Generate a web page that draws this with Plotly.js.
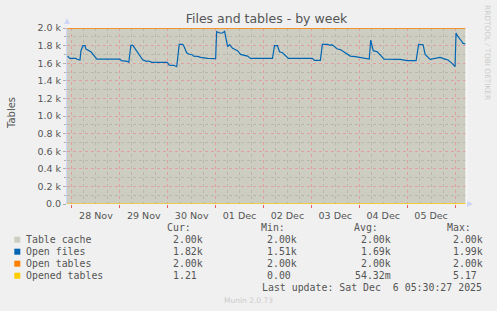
<!DOCTYPE html>
<html><head><meta charset="utf-8">
<script src="https://cdn.plot.ly/plotly-3.0.1.min.js"></script>
<style>html,body{margin:0;padding:0;background:#f0f0f0;}#chart{width:497px;height:311px;}</style>
</head><body><div id="chart"></div>
<script>
// ---- data ----
const tableCacheTimes = ['2025-11-27 21:30', '2025-12-06 05:30'];
const tableCacheValues = [2000, 2000];
const openTablesTimes = ['2025-11-27 21:30', '2025-12-06 05:30'];
const openTablesValues = [2000, 2000];
const openFilesTimes = [
 '2025-11-27 21:45','2025-11-27 23:00','2025-11-28 02:00','2025-11-28 02:30','2025-11-28 04:00','2025-11-28 04:30',
 '2025-11-28 05:30','2025-11-28 06:30','2025-11-28 07:00','2025-11-28 08:30','2025-11-28 09:30','2025-11-28 12:30',
 '2025-11-29 00:00','2025-11-29 00:45','2025-11-29 03:45','2025-11-29 04:30','2025-11-29 05:30','2025-11-29 06:30',
 '2025-11-29 09:00','2025-11-29 11:30','2025-11-29 12:30','2025-11-29 13:30','2025-11-29 14:30','2025-11-29 16:00',
 '2025-11-29 23:45','2025-11-30 00:45','2025-11-30 03:00','2025-11-30 04:00','2025-11-30 04:30','2025-11-30 05:45',
 '2025-11-30 07:30','2025-11-30 08:00','2025-11-30 09:30','2025-11-30 10:30','2025-11-30 12:30','2025-11-30 13:00',
 '2025-11-30 15:00','2025-11-30 16:30','2025-11-30 20:00','2025-12-01 00:00','2025-12-01 00:30','2025-12-01 02:00',
 '2025-12-01 03:30','2025-12-01 04:30','2025-12-01 06:00','2025-12-01 07:00','2025-12-01 08:30','2025-12-01 11:00',
 '2025-12-01 12:30','2025-12-01 16:00','2025-12-01 17:30','2025-12-02 04:30','2025-12-02 05:30','2025-12-02 07:00',
 '2025-12-02 08:00','2025-12-02 09:30','2025-12-02 12:30','2025-12-03 00:30','2025-12-03 01:30','2025-12-03 04:30',
 '2025-12-03 05:30','2025-12-03 08:00','2025-12-03 09:00','2025-12-03 10:30','2025-12-03 13:00','2025-12-03 14:30',
 '2025-12-03 17:00','2025-12-03 19:30','2025-12-03 22:00','2025-12-04 00:30','2025-12-04 03:00','2025-12-04 05:00',
 '2025-12-04 05:45','2025-12-04 07:00','2025-12-04 09:00','2025-12-04 11:30','2025-12-04 12:30','2025-12-04 20:30',
 '2025-12-05 00:00','2025-12-05 04:30','2025-12-05 05:45','2025-12-05 08:00','2025-12-05 09:00','2025-12-05 11:30',
 '2025-12-05 14:00','2025-12-05 16:30','2025-12-05 19:00','2025-12-05 20:30','2025-12-05 22:30','2025-12-06 00:00',
 '2025-12-06 00:30','2025-12-06 01:30','2025-12-06 03:30','2025-12-06 04:00','2025-12-06 05:30'];
const openFilesValues = [
 1680,1655,1655,1645,1636,1742,
 1800,1800,1760,1738,1730,1647,
 1647,1629,1621,1610,1803,1803,
 1719,1636,1629,1621,1625,1610,
 1610,1579,1576,1560,1560,1814,
 1814,1799,1719,1704,1693,1681,
 1678,1666,1655,1651,1958,1943,
 1943,1962,1788,1810,1769,1742,
 1700,1681,1655,1655,1799,1799,
 1730,1719,1655,1655,1632,1632,
 1814,1814,1805,1808,1761,1755,
 1719,1681,1674,1666,1655,1647,
 1863,1742,1730,1662,1647,1644,
 1629,1629,1814,1810,1700,1644,
 1651,1666,1647,1636,1598,1560,
 1943,1901,1844,1825,1818];
const openedTablesTimes = ['2025-11-27 21:30','2025-11-29 05:00','2025-11-29 06:00','2025-11-29 07:00','2025-12-01 00:00','2025-12-01 01:00','2025-12-03 06:00','2025-12-06 04:00','2025-12-06 05:30'];
const openedTablesValues = [0.0, 0.0, 5.17, 0.0, 0.0, 1.8, 0.0, 0.0, 1.21];

const yTickVals = [0,200,400,600,800,1000,1200,1400,1600,1800,2000];
const yTickText = ['0.0','0.2 k','0.4 k','0.6 k','0.8 k','1.0 k','1.2 k','1.4 k','1.6 k','1.8 k','2.0 k'];

const legendNames = ['Table cache','Open files','Open tables','Opened tables'];
const legendColors = ['#cdcdc1','#0066b3','#ff8000','#ffcc00'];
const curVals = ['2.00k','1.82k','2.00k','1.21'];
const minVals = ['2.00k','1.51k','2.00k','0.00'];
const avgVals = ['2.00k','1.69k','2.00k','54.32m'];
const maxVals = ['2.00k','1.99k','2.00k','5.17'];

// ---- layout helpers ----
const W = 497, H = 311, ML = 67, MR = 31, MT = 28, MB = 107;
const PW = W - ML - MR, PH = H - MT - MB;
const px = x => (x - ML) / PW;
const py = y => (H - MB - y) / PH;
const mono = {family: 'DejaVu Sans Mono', size: 9.9, color: '#555555'};

const traces = [
 {x: tableCacheTimes, y: tableCacheValues, type: 'scatter', mode: 'lines', line: {color: legendColors[0], width: 1}, hoverinfo: 'skip'},
 {x: openedTablesTimes, y: openedTablesValues, type: 'scatter', mode: 'lines', line: {color: legendColors[3], width: 1.2}, hoverinfo: 'skip'},
 {x: openFilesTimes, y: openFilesValues, type: 'scatter', mode: 'lines', line: {color: legendColors[1], width: 1.2}, hoverinfo: 'skip'},
 {x: openTablesTimes, y: openTablesValues, type: 'scatter', mode: 'lines', line: {color: legendColors[2], width: 1.6}, hoverinfo: 'skip', cliponaxis: false}
];

const annotations = [];
const shapes = [];
const rowY = [239.7, 251.7, 263.7, 275.7];
const hdr = [['Cur:',166.7],['Min:',261],['Avg:',354],['Max:',446.7]];
hdr.forEach(h => annotations.push({xref:'paper',yref:'paper',x:px(h[1]-1),y:py(228),xanchor:'left',yanchor:'middle',text:h[0],showarrow:false,font:mono,borderpad:0}));
legendNames.forEach((n,i) => {
  const yy = rowY[i];
  annotations.push({xref:'paper',yref:'paper',x:px(25.3),y:py(yy),xanchor:'left',yanchor:'middle',text:n,showarrow:false,font:mono,borderpad:0});
  annotations.push({xref:'paper',yref:'paper',x:px(172.3),y:py(yy),xanchor:'left',yanchor:'middle',text:curVals[i],showarrow:false,font:mono,borderpad:0});
  annotations.push({xref:'paper',yref:'paper',x:px(266.3),y:py(yy),xanchor:'left',yanchor:'middle',text:minVals[i],showarrow:false,font:mono,borderpad:0});
  annotations.push({xref:'paper',yref:'paper',x:px(391.5),y:py(yy),xanchor:'right',yanchor:'middle',text:avgVals[i],showarrow:false,font:mono,borderpad:0});
  annotations.push({xref:'paper',yref:'paper',x:px(452.3),y:py(yy),xanchor:'left',yanchor:'middle',text:maxVals[i],showarrow:false,font:mono,borderpad:0});
  shapes.push({type:'rect',xref:'paper',yref:'paper',x0:px(14.3),x1:px(20.3),y0:py(yy-3),y1:py(yy+3),fillcolor:legendColors[i],line:{width:0}});
});
annotations.push({xref:'paper',yref:'paper',x:px(483.5),y:py(287.3),xanchor:'right',yanchor:'middle',text:'Last update: Sat Dec  6 05:30:27 2025',showarrow:false,font:mono,borderpad:0});
annotations.push({xref:'paper',yref:'paper',x:px(248),y:py(300.5),xanchor:'center',yanchor:'middle',text:'Munin 2.0.73',showarrow:false,font:{family:'DejaVu Sans',size:7.5,color:'#cccccc'},borderpad:0});
annotations.push({xref:'paper',yref:'paper',x:px(488),y:py(52),xanchor:'center',yanchor:'middle',text:'RRDTOOL / TOBI OETIKER',textangle:90,showarrow:false,font:{family:'DejaVu Sans',size:7.4,color:'#cccccc'},borderpad:0});
annotations.push({xref:'paper',yref:'paper',x:px(11),y:py(113),xanchor:'center',yanchor:'middle',text:'Tables',textangle:-90,showarrow:false,font:{family:'DejaVu Sans',size:10,color:'#555555'},borderpad:0});

// decorations: right white frame line and axis arrows
shapes.push({type:'line',xref:'paper',yref:'paper',x0:1,x1:1,y0:0,y1:1,line:{color:'#ffffff',width:1}});
shapes.push({type:'path',xref:'paper',yref:'paper',path:`M ${px(64)} ${py(24)} L ${px(70)} ${py(24)} L ${px(67)} ${py(18)} Z`,fillcolor:'#cfd6f8',line:{width:0}});
shapes.push({type:'path',xref:'paper',yref:'paper',path:`M ${px(467)} ${py(201)} L ${px(467)} ${py(207)} L ${px(473)} ${py(204)} Z`,fillcolor:'#cfd6f8',line:{width:0}});

const layout = {
  width: W, height: H,
  margin: {l: ML, r: MR, t: MT, b: MB, pad: 0},
  paper_bgcolor: '#f0f0f0',
  plot_bgcolor: '#cdcdc1',
  showlegend: false,
  title: {text: 'Files and tables - by week', x: 0.5, xref: 'paper', xanchor: 'center', y: 1 - 19/H, yanchor: 'middle', font: {family: 'DejaVu Sans', size: 12.5, color: '#555555'}},
  xaxis: {
    type: 'date', range: ['2025-11-27 21:30', '2025-12-06 05:30'],
    tick0: '2025-11-28', dtick: 86400000, ticklabelmode: 'period', tickformat: '%d %b',
    showgrid: true, gridcolor: '#e0a0a0', griddash: 'dot', gridwidth: 1,
    minor: {dtick: 21600000, showgrid: true, gridcolor: '#b8b8b0', griddash: 'dot', gridwidth: 1, ticks: ''},
    ticks: 'outside', ticklen: 3, tickcolor: '#e06060', tickwidth: 1,
    showline: false, zeroline: false,
    tickfont: {family: 'DejaVu Sans', size: 9.5, color: '#555555'},
    fixedrange: true
  },
  yaxis: {
    range: [0, 2000], tickvals: yTickVals, ticktext: yTickText,
    showgrid: true, gridcolor: '#e0a0a0', griddash: 'dot', gridwidth: 1,
    minor: {dtick: 100, showgrid: true, gridcolor: '#b8b8b0', griddash: 'dot', gridwidth: 1, ticks: 'outside', ticklen: 2, tickcolor: '#b0b0b0'},
    ticks: 'outside', ticklen: 3, tickcolor: '#b0b0b0',
    showline: true, linecolor: '#cfd6f8', linewidth: 1,
    zeroline: false,
    tickfont: {family: 'DejaVu Sans', size: 9.5, color: '#555555'},
    fixedrange: true
  },
  annotations: annotations,
  shapes: shapes
};

Plotly.newPlot('chart', traces, layout, {staticPlot: true, displayModeBar: false});
</script></body></html>
